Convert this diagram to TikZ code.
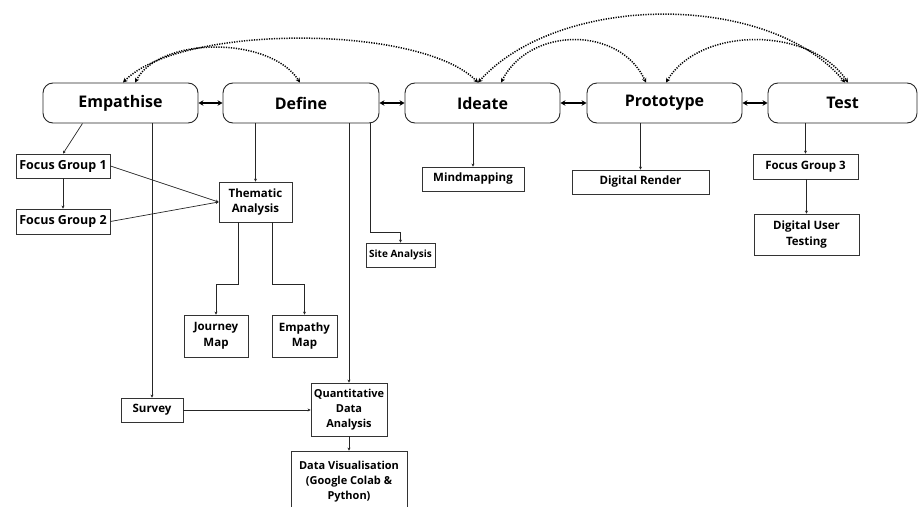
\documentclass[tikz,border=0pt]{standalone}
\usepackage{fontspec}
\setmainfont{Open Sans}
\usetikzlibrary{arrows.meta}
\begin{document}
\begin{tikzpicture}[x=1pt,y=-1pt,
 phase/.style={draw=black!85, line width=0.9pt, rounded corners=10pt, minimum height=40pt, inner sep=0pt, font=\fontsize{16}{19}\selectfont\bfseries},
 box/.style={draw=black!80, line width=0.8pt, inner sep=0pt, align=center, font=\fontsize{11.5}{15.5}\selectfont\bfseries},
 conn/.style={draw=black!85, line width=0.7pt, -{Stealth[length=3pt,width=3pt]}},
 dbl/.style={line width=1.2pt, {Stealth[length=5pt,width=5.5pt]}-{Stealth[length=5pt,width=5.5pt]}},
 dotarc/.style={line width=1.5pt, dash pattern=on 1.2pt off 1.3pt, {Stealth[length=4.5pt,width=4.5pt]}-{Stealth[length=4.5pt,width=4.5pt]}}
]
\useasboundingbox (0,0) rectangle (918,506);
\clip (0,0) rectangle (918,506);
% phases
\node[phase, minimum width=155pt] (emp) at (120.5,103) {Empathise};
\node[phase, minimum width=156pt] (def) at (301,103) {Define};
\node[phase, minimum width=155pt] (ide) at (482.5,103) {Ideate};
\node[phase, minimum width=155pt] (pro) at (664.5,103) {Prototype};
\node[phase, minimum width=149pt] (tst) at (842.5,103) {Test};
% boxes
\node[box, minimum width=94pt, minimum height=24pt, font=\fontsize{12.5}{15}\selectfont\bfseries] (fg1) at (63,166) {Focus Group 1};
\node[box, minimum width=94pt, minimum height=25pt, font=\fontsize{12.5}{15}\selectfont\bfseries] (fg2) at (63,221.5) {Focus Group 2};
\node[box, minimum width=73pt, minimum height=40pt] (them) at (255.5,202) {Thematic\\Analysis};
\node[box, minimum width=69pt, minimum height=24pt, font=\fontsize{10}{12}\selectfont\bfseries] (site) at (400.5,255) {Site Analysis};
\node[box, minimum width=64pt, minimum height=42pt] (jour) at (216,336) {Journey\\Map};
\node[box, minimum width=65pt, minimum height=42pt] (empm) at (304.5,336) {Empathy\\Map};
\node[box, minimum width=62pt, minimum height=24pt] (surv) at (152,410) {Survey};
\node[box, minimum width=76pt, minimum height=53pt, font=\fontsize{11}{15}\selectfont\bfseries] (qda) at (349,409.5) {Quantitative\\Data\\Analysis};
\node[box, minimum width=116pt, minimum height=62pt, font=\fontsize{11}{15}\selectfont\bfseries] (dv) at (349,482) {Data Visualisation\\(Google Colab \&\\Python)};
\node[box, minimum width=102pt, minimum height=24pt] (mind) at (473,179) {Mindmapping};
\node[box, minimum width=137pt, minimum height=24pt] (dr) at (640.5,182) {Digital Render};
\node[box, minimum width=105pt, minimum height=25pt] (fg3) at (805.5,166.5) {Focus Group 3};
\node[box, minimum width=105pt, minimum height=41pt] (dut) at (806.5,234.5) {Digital User\\Testing};
% double arrows between phases
\draw[dbl] (emp.east) -- (def.west);
\draw[dbl] (def.east) -- (ide.west);
\draw[dbl] (ide.east) -- (pro.west);
\draw[dbl] (pro.east) -- (tst.west);
% dotted arcs
\draw[dotarc] ([xshift=14.5pt]emp.north) .. controls (160,36) and (270,36) .. ([xshift=-1pt]def.north);
\draw[dotarc] ([xshift=2.5pt]emp.north) .. controls (180,24) and (420,24) .. ([xshift=-4.5pt]ide.north);
\draw[dotarc] ([xshift=-4.5pt]ide.north) .. controls (560,-8) and (770,-8) .. ([xshift=2.5pt]tst.north);
\draw[dotarc] ([xshift=18.5pt]ide.north) .. controls (530,26) and (620,26) .. ([xshift=-18.5pt]pro.north);
\draw[dotarc] ([xshift=1.5pt]pro.north) .. controls (700,26) and (810,26) .. ([xshift=5.5pt]tst.north);
% connectors
\draw[conn] ([xshift=-38pt]emp.south) -- (fg1.north);
\draw[conn] (fg1.south) -- (fg2.north);
\draw[conn] (fg1.east) -- (them.west);
\draw[conn] (fg2.east) -- (them.west);
\draw[conn] (emp.south -| surv.north) -- (surv.north);
\draw[conn] (surv.east) -- (surv.east -| qda.west);
\draw[conn] (def.south -| them.north) -- (them.north);
\draw[conn] (def.south -| qda.north) -- (qda.north);
\draw[conn] (qda.south) -- (dv.north);
\draw[conn] ([xshift=69pt]def.south) -- ++(0,109) -| (site.north);
\draw[conn] ([xshift=-17.5pt]them.south) -- ++(0,62) -| (jour.north);
\draw[conn] ([xshift=16.5pt]them.south) -- ++(0,62) -| (empm.north);
\draw[conn] (ide.south -| mind.north) -- (mind.north);
\draw[conn] (pro.south -| dr.north) -- (dr.north);
\draw[conn] (tst.south -| fg3.north) -- (fg3.north);
\draw[conn] (fg3.south) -- (fg3.south -| dut.north) -- (dut.north);
\end{tikzpicture}
\end{document}
